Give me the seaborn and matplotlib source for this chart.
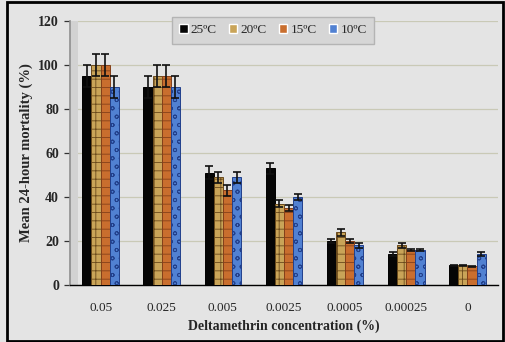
import matplotlib
matplotlib.use("Agg")
import matplotlib.pyplot as plt
import seaborn as sns
import pandas as pd
import numpy as np
from matplotlib.patches import Rectangle

# Deltamethrin concentrations (%) and test temperatures
concentrations = ["0.05", "0.025", "0.005", "0.0025", "0.0005", "0.00025", "0"]
temperatures = ["25ºC", "20ºC", "15ºC", "10ºC"]

# Mean 24-hour mortality (%) per temperature
mort_25 = [95, 90, 51, 53, 20, 14, 9]
mort_20 = [100, 95, 49, 37, 24, 18, 9]
mort_15 = [100, 95, 43, 35, 20, 16, 8.5]
mort_10 = [90, 90, 49, 40, 18, 16, 14]

# Standard errors
err_25 = [5, 5, 3, 2.5, 1, 1, 0.3]
err_20 = [5, 5, 2.5, 1.5, 1.5, 1, 0.3]
err_15 = [5, 5, 2.5, 1.5, 1, 0.5, 0.3]
err_10 = [5, 5, 2.5, 1.5, 1, 0.5, 1]

means = [mort_25, mort_20, mort_15, mort_10]
errs = [err_25, err_20, err_15, err_10]

df = pd.DataFrame({
    "conc": concentrations * 4,
    "temp": [t for t in temperatures for _ in concentrations],
    "mortality": sum(means, []),
})

bg = "#e4e4e4"
sns.set_theme(style="white")
plt.rcParams["font.family"] = ["Liberation Serif", "DejaVu Serif"]
plt.rcParams["hatch.linewidth"] = 0.6

fig = plt.figure(figsize=(5.05, 3.42), dpi=100, facecolor=bg)
ax = fig.add_axes([70 / 505, 1 - 285 / 342, 428 / 505, 264 / 342])
ax.set_facecolor(bg)

face = ["#050505", "#c9a458", "#c96e2e", "#5181d2"]
edge = ["#000000", "#6a4a1c", "#84401a", "#22408c"]
hatch = [None, "++", "--", "oo"]

sns.barplot(data=df, x="conc", y="mortality", hue="temp", order=concentrations,
            hue_order=temperatures, palette=face, saturation=1, width=0.6,
            errorbar=None, ax=ax, zorder=3)

for cont, fc, ec, h, e in zip(ax.containers, face, edge, hatch, errs):
    xs, hs = [], []
    for bar in cont:
        bar.set_edgecolor(ec)
        bar.set_linewidth(0.7)
        if h:
            bar.set_hatch(h)
        xs.append(bar.get_x() + bar.get_width() / 2)
        hs.append(bar.get_height())
    ax.errorbar(xs, hs, yerr=e, fmt="none", ecolor="#111111", elinewidth=1.2,
                capsize=3.2, capthick=1.2, zorder=4)

ax.set_ylim(0, 120)
ax.set_xlim(-0.5, len(concentrations) - 0.5)
ax.set_yticks(range(0, 121, 20))
ax.yaxis.grid(True, color="#c9c9b6", linewidth=0.9, zorder=0)
ax.set_axisbelow(True)

for s in ["top", "right"]:
    ax.spines[s].set_visible(False)
ax.spines["bottom"].set_color("black")
ax.spines["bottom"].set_linewidth(1.0)
ax.spines["left"].set_color("#8f8f8f")
ax.spines["left"].set_linewidth(1.2)
# side wall strip along the value axis
ax.add_patch(Rectangle((0, 0), 8 / 428, 1, transform=ax.transAxes,
                       facecolor="#d2d2d2", edgecolor="none", zorder=1))

ax.tick_params(axis="y", which="both", left=True, length=4, width=0.9,
               color="#333333", labelsize=10, pad=4)
ax.tick_params(axis="x", bottom=False, labelsize=9.5, pad=6)
for lab in ax.get_yticklabels():
    lab.set_fontweight("bold")

ax.set_xlabel("Deltamethrin concentration (%)", fontsize=10, fontweight="bold",
              labelpad=4)
ax.set_ylabel("Mean 24-hour mortality (%)", fontsize=10.5, fontweight="bold",
              labelpad=4)

leg = ax.legend(title=None, ncol=4, loc="upper center",
                bbox_to_anchor=(273 / 505, 1 - 17 / 342),
                bbox_transform=fig.transFigure, fontsize=9.5,
                frameon=True, fancybox=False, handlelength=0.65,
                handleheight=0.65, handletextpad=0.25, columnspacing=0.9,
                borderpad=0.55, borderaxespad=0)
leg.get_frame().set_facecolor("#d6d6d6")
leg.get_frame().set_edgecolor("#b4b4b4")
leg.get_frame().set_alpha(1)

# outer frame of the figure
fig.patches.append(Rectangle((7 / 505, 1 / 342), 496 / 505, 339 / 342,
                             transform=fig.transFigure, fill=False,
                             edgecolor="black", linewidth=2))

fig.savefig("out.png", dpi=100, facecolor=bg)
